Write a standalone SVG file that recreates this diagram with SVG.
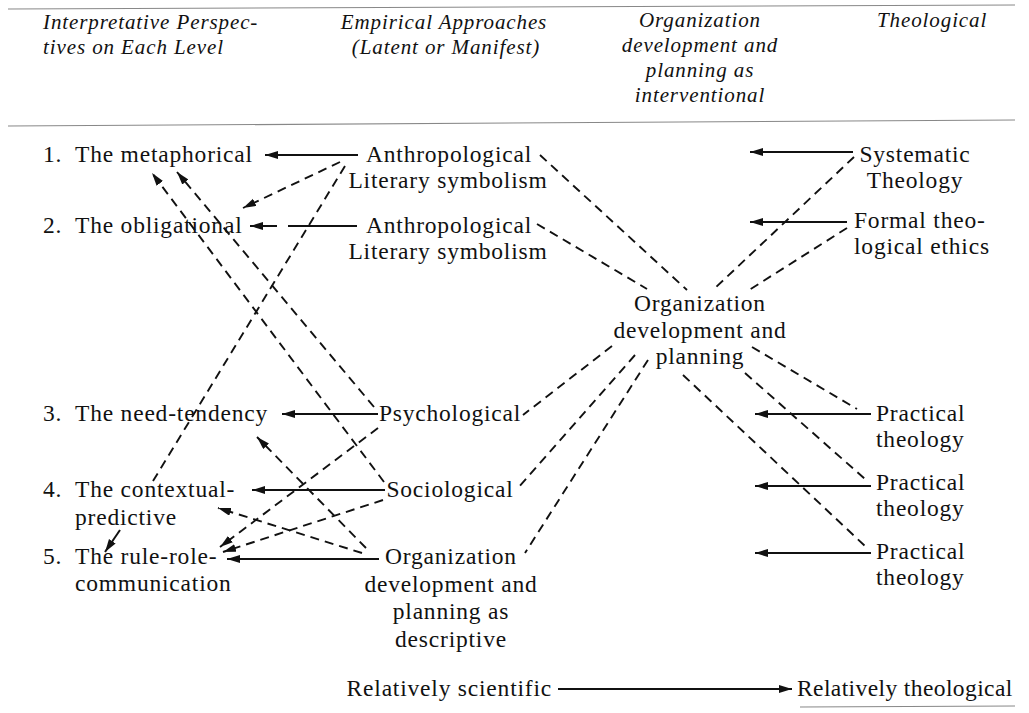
<svg xmlns="http://www.w3.org/2000/svg" width="1029" height="713" viewBox="0 0 1029 713">
<defs>
<style>
text{font-family:"Liberation Serif","Times New Roman",serif;fill:#111;}
.b{font-size:23.5px;letter-spacing:0.8px;}
.h{font-size:21px;font-style:italic;letter-spacing:0.9px;}
.m{text-anchor:middle;}
.rule{stroke:#888;stroke-width:1.2;fill:none;}
.s{stroke:#111;stroke-width:2;fill:none;}
.d{stroke:#111;stroke-width:1.9;fill:none;stroke-dasharray:9 6;}
</style>
<marker id="ah" markerUnits="userSpaceOnUse" markerWidth="14" markerHeight="10" refX="13" refY="4" orient="auto">
<path d="M0,0 L13,4 L0,8 Z" fill="#111"/>
</marker>
</defs>
<rect width="1029" height="713" fill="#fff"/>

<g id="header">
<line class="rule" x1="8" y1="9" x2="1015" y2="5"/>
<line class="rule" x1="8" y1="126" x2="1015" y2="120"/>
<text class="h" x="43" y="29">Interpretative Perspec-</text>
<text class="h" x="43" y="54">tives on Each Level</text>
<text class="h m" x="444" y="29">Empirical Approaches</text>
<text class="h m" x="446" y="54">(Latent or Manifest)</text>
<text class="h m" x="700" y="27">Organization</text>
<text class="h m" x="700" y="52">development and</text>
<text class="h m" x="700" y="77">planning as</text>
<text class="h m" x="700" y="102">interventional</text>
<text class="h" x="877" y="27">Theological</text>
</g>

<g id="connectors">
<line class="s" x1="358" y1="155" x2="265" y2="155" marker-end="url(#ah)"/>
<line class="s" x1="357" y1="226" x2="288" y2="226"/>
<line class="s" x1="277" y1="226" x2="250" y2="226" marker-end="url(#ah)"/>
<line class="s" x1="378" y1="414" x2="282" y2="414" marker-end="url(#ah)"/>
<line class="s" x1="385" y1="490" x2="252" y2="490" marker-end="url(#ah)"/>
<line class="s" x1="379" y1="559" x2="227" y2="559" marker-end="url(#ah)"/>
<line class="s" x1="120" y1="530" x2="105" y2="552" marker-end="url(#ah)"/>
<line class="s" x1="853" y1="152" x2="750" y2="152" marker-end="url(#ah)"/>
<line class="s" x1="847" y1="222" x2="750" y2="222" marker-end="url(#ah)"/>
<line class="s" x1="871" y1="414" x2="755" y2="414" marker-end="url(#ah)"/>
<line class="s" x1="871" y1="486" x2="755" y2="486" marker-end="url(#ah)"/>
<line class="s" x1="871" y1="553" x2="755" y2="553" marker-end="url(#ah)"/>
<line class="s" x1="558" y1="689" x2="792" y2="689" marker-end="url(#ah)"/>

<line class="d" x1="340" y1="162" x2="243" y2="208" marker-end="url(#ah)"/>
<line class="d" x1="345" y1="166" x2="150" y2="486"/>
<line class="d" x1="374" y1="407" x2="177" y2="172" marker-end="url(#ah)"/>
<line class="d" x1="384" y1="482" x2="152" y2="173" marker-end="url(#ah)"/>
<line class="d" x1="378" y1="428" x2="220" y2="547" marker-end="url(#ah)"/>
<line class="d" x1="383" y1="500" x2="223" y2="552" marker-end="url(#ah)"/>
<line class="d" x1="362" y1="553" x2="218" y2="508" marker-end="url(#ah)"/>
<line class="d" x1="366" y1="548" x2="257" y2="437" marker-end="url(#ah)"/>

<line class="d" x1="540" y1="155" x2="687" y2="290"/>
<line class="d" x1="537" y1="224" x2="647" y2="289"/>
<line class="d" x1="854" y1="157" x2="714" y2="289"/>
<line class="d" x1="847" y1="228" x2="746" y2="292"/>
<line class="d" x1="612" y1="346" x2="523" y2="415"/>
<line class="d" x1="635" y1="355" x2="518" y2="488"/>
<line class="d" x1="648" y1="360" x2="525" y2="553"/>
<line class="d" x1="683" y1="375" x2="865" y2="546"/>
<line class="d" x1="745" y1="373" x2="865" y2="479"/>
<line class="d" x1="752" y1="347" x2="857" y2="409"/>
</g>

<g id="n-metaphorical"><text class="b" x="43" y="162">1.</text><text class="b" x="75" y="162">The metaphorical</text></g>
<g id="n-obligational"><text class="b" x="43" y="233">2.</text><text class="b" x="75" y="233">The obligational</text></g>
<g id="n-needtendency"><text class="b" x="43" y="421">3.</text><text class="b" x="75" y="421">The need-tendency</text></g>
<g id="n-contextual"><text class="b" x="43" y="497">4.</text><text class="b" x="75" y="497">The contextual-</text><text class="b" x="75" y="525">predictive</text></g>
<g id="n-rulerole"><text class="b" x="43" y="564">5.</text><text class="b" x="75" y="564">The rule-role-</text><text class="b" x="75" y="591">communication</text></g>

<g id="n-anthro1"><text class="b m" x="449" y="162">Anthropological</text><text class="b m" x="448" y="188">Literary symbolism</text></g>
<g id="n-anthro2"><text class="b m" x="449" y="233">Anthropological</text><text class="b m" x="448" y="259">Literary symbolism</text></g>
<g id="n-psych"><text class="b m" x="450" y="421">Psychological</text></g>
<g id="n-socio"><text class="b m" x="450" y="497">Sociological</text></g>
<g id="n-oddesc"><text class="b m" x="451" y="564">Organization</text><text class="b m" x="451" y="592">development and</text><text class="b m" x="451" y="619">planning as</text><text class="b m" x="451" y="647">descriptive</text></g>

<g id="n-odcenter"><text class="b m" x="700" y="311">Organization</text><text class="b m" x="700" y="338">development and</text><text class="b m" x="700" y="364">planning</text></g>

<g id="n-systematic"><text class="b m" x="915" y="162">Systematic</text><text class="b m" x="915" y="188">Theology</text></g>
<g id="n-formal"><text class="b" x="854" y="228">Formal theo-</text><text class="b" x="854" y="254">logical ethics</text></g>
<g id="n-practical1"><text class="b" x="876" y="421">Practical</text><text class="b" x="876" y="447">theology</text></g>
<g id="n-practical2"><text class="b" x="876" y="490">Practical</text><text class="b" x="876" y="516">theology</text></g>
<g id="n-practical3"><text class="b" x="876" y="559">Practical</text><text class="b" x="876" y="585">theology</text></g>

<g id="n-scale"><text class="b" x="552" y="696" style="text-anchor:end">Relatively scientific</text><text class="b" x="797" y="696" style="letter-spacing:0.4px">Relatively theological</text>
<line class="rule" x1="800" y1="707" x2="1015" y2="706" stroke="#bbb"/></g>
</svg>
